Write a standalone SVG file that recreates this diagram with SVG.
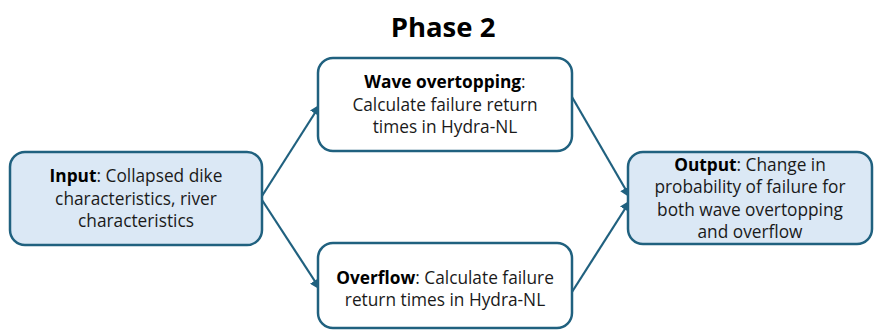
<svg xmlns="http://www.w3.org/2000/svg" width="874" height="331" viewBox="0 0 874 331">
  <style>
    .box { stroke: #20617f; stroke-width: 2.5; }
    .hl { fill: #dbe8f5; }
    .plain { fill: #ffffff; }
    .lbl { font-family: "Open Sans", "Noto Sans", sans-serif; font-size: 17.3px; fill: #1a1a1a; text-anchor: middle; }
    .lbl tspan.b { font-weight: bold; fill: #000; }
    .title { font-family: "Open Sans", "Noto Sans", sans-serif; font-size: 27.5px; font-weight: bold; text-anchor: middle; fill: #000; }
    .conn { stroke: #20617f; stroke-width: 2.2; fill: none; marker-end: url(#arrow); }
  </style>
  <defs>
    <marker id="arrow" viewBox="0 0 10 10" refX="9" refY="5" markerWidth="5" markerHeight="5" orient="auto" markerUnits="strokeWidth">
      <path d="M0,0 L10,5 L0,10 z" fill="#20617f"/>
    </marker>
  </defs>
  <rect width="874" height="331" fill="#ffffff"/>

  <text class="title" x="443" y="37">Phase 2</text>

  <g id="connectors">
    <line class="conn" x1="262" y1="196" x2="320" y2="105"/>
    <line class="conn" x1="262" y1="200" x2="320" y2="289"/>
    <line class="conn" x1="572" y1="97" x2="630" y2="197"/>
    <line class="conn" x1="572" y1="292" x2="630" y2="201"/>
  </g>

  <g id="input">
    <rect class="box hl" x="10" y="152" width="252" height="93" rx="15"/>
    <text class="lbl" x="136" y="182"><tspan class="b">Input</tspan>: Collapsed dike</text>
    <text class="lbl" x="136" y="205">characteristics, river</text>
    <text class="lbl" x="136" y="227">characteristics</text>
  </g>

  <g id="wave-overtopping">
    <rect class="box plain" x="318" y="58" width="254" height="93" rx="15"/>
    <text class="lbl" x="445" y="88"><tspan class="b">Wave overtopping</tspan>:</text>
    <text class="lbl" x="445" y="111">Calculate failure return</text>
    <text class="lbl" x="445" y="133">times in Hydra-NL</text>
  </g>

  <g id="overflow">
    <rect class="box plain" x="318" y="243" width="254" height="85" rx="15"/>
    <text class="lbl" x="445" y="284"><tspan class="b">Overflow</tspan>: Calculate failure</text>
    <text class="lbl" x="445" y="306">return times in Hydra-NL</text>
  </g>

  <g id="output">
    <rect class="box hl" x="628" y="152" width="244" height="92" rx="15"/>
    <text class="lbl" x="750" y="171"><tspan class="b">Output</tspan>: Change in</text>
    <text class="lbl" x="750" y="193">probability of failure for</text>
    <text class="lbl" x="750" y="216">both wave overtopping</text>
    <text class="lbl" x="750" y="238">and overflow</text>
  </g>
</svg>
